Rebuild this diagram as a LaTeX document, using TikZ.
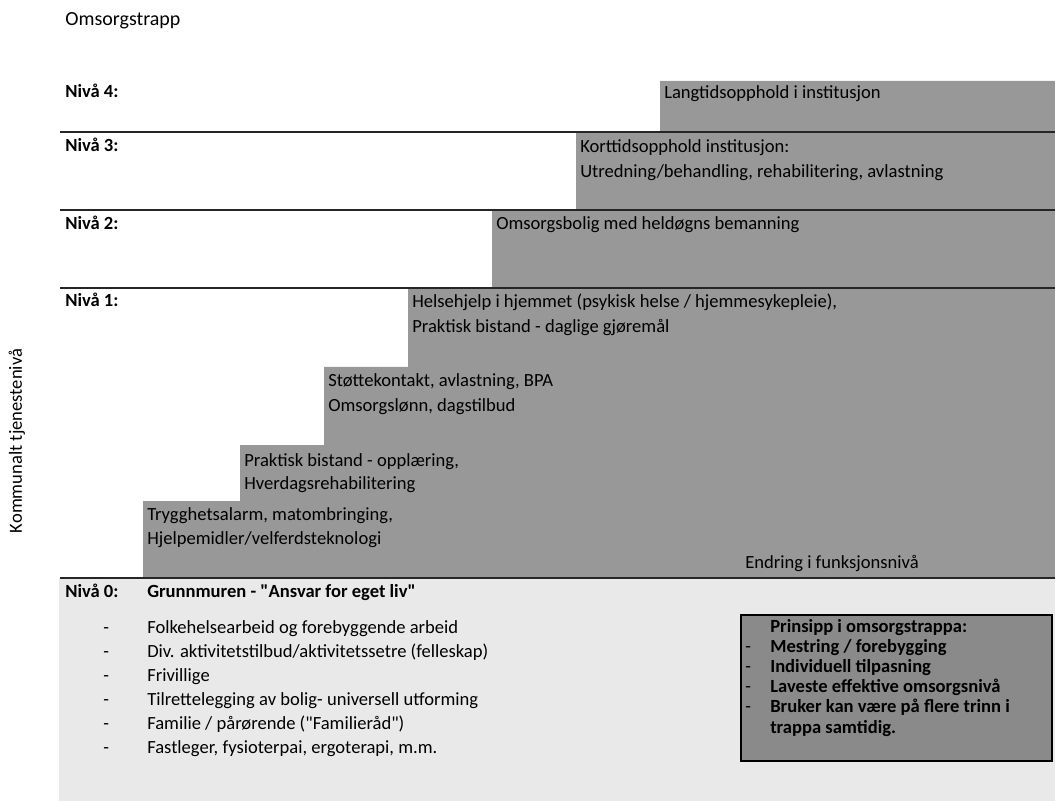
\documentclass[tikz,border=0pt]{standalone}
\usepackage{fontspec}
\setmainfont{Carlito}[Ligatures=TeXOff]
\definecolor{stairgray}{RGB}{152,152,152}
\definecolor{basegray}{RGB}{233,233,233}
\definecolor{boxgray}{RGB}{138,138,138}
\tikzset{
every picture/.style={x=0.7pt, y=-0.7pt},
txt/.style={anchor=base west, inner sep=0pt, font=\fontsize{13}{15}\selectfont},
lvl/.style={txt, font=\fontsize{13}{15}\selectfont\bfseries},
rule/.style={line width=1.3pt, black!85}
}

\begin{document}
\begin{tikzpicture}
  \useasboundingbox (0,0) rectangle (1055,801);
  % grunnmur and stair
  \fill[basegray] (59,578) rectangle (1055,801);
  \fill[stairgray] (143,578) |- (240,501) |- (324,445) |- (408,367)
    |- (492,288) |- (576,210) |- (660,132) |- (1055,81) -- (1055,578) -- cycle;
  \foreach \y in {132,210,288,578}
    \draw[rule] (60,\y) -- (1055,\y);

  \node[txt, font=\fontsize{14}{16}\selectfont] (title) at (65,26) {Omsorgstrapp};
  \node[txt, rotate=90, anchor=center] (axis) at (17,441) {Kommunalt tjenestenivå};

  \node[lvl] (n4) at (65,98) {Nivå 4:};
  \node[lvl] (n3) at (65,152) {Nivå 3:};
  \node[lvl] (n2) at (65,230) {Nivå 2:};
  \node[lvl] (n1) at (65,307) {Nivå 1:};
  \node[lvl] (n0) at (65,597) {Nivå 0:};

  \node[txt] (lang) at (664,99) {Langtidsopphold i institusjon};
  \node[txt] (kort) at (580,153) {Korttidsopphold institusjon:};
  \node[txt] (utr) at (580,178) {Utredning/behandling, rehabilitering, avlastning};
  \node[txt] (bolig) at (496,230) {Omsorgsbolig med heldøgns bemanning};
  \node[txt] (helse) at (412,308) {Helsehjelp i hjemmet (psykisk helse / hjemmesykepleie),};
  \node[txt] (daglig) at (412,333) {Praktisk bistand - daglige gjøremål};
  \node[txt] (stotte) at (328,387) {Støttekontakt, avlastning, BPA};
  \node[txt] (lonn) at (328,411) {Omsorgslønn, dagstilbud};
  \node[txt] (opplaer) at (244,466) {Praktisk bistand - opplæring,};
  \node[txt] (hverdag) at (244,490) {Hverdagsrehabilitering};
  \node[txt] (trygg) at (147,520) {Trygghetsalarm, matombringing,};
  \node[txt] (hjelpem) at (147,544) {Hjelpemidler/velferdsteknologi};
  \node[txt] (endring) at (745,568) {Endring i funksjonsnivå};

  \node[lvl] (grunn) at (147,597) {Grunnmuren - "Ansvar for eget liv"};
  \foreach \t [count=\i] in {Folkehelsearbeid og forebyggende arbeid,
      Div. aktivitetstilbud/aktivitetssetre (felleskap), Frivillige,
      Tilrettelegging av bolig- universell utforming,
      Familie / pårørende ("Familieråd"), {Fastleger, fysioterpai, ergoterapi, m.m.}}{
    \node[txt] (dash\i) at (103,633+24*\i-24) {-};
    \node[txt] (item\i) at (147,633+24*\i-24) {\t};
  }

  % prinsipper
  \draw[fill=boxgray, line width=1pt] (741,615) rectangle (1052,761);
  \node[lvl] (prinsipp) at (770,632) {Prinsipp i omsorgstrappa:};
  \foreach \t [count=\i] in {Mestring / forebygging, Individuell tilpasning,
      Laveste effektive omsorgsnivå, Bruker kan være på flere trinn i}{
    \node[txt] (pdash\i) at (745,632+20.2*\i) {-};
    \node[lvl] (pitem\i) at (770,632+20.2*\i) {\t};
  }
  \node[lvl] (psamt) at (770,733) {trappa samtidig.};
\end{tikzpicture}
\end{document}
